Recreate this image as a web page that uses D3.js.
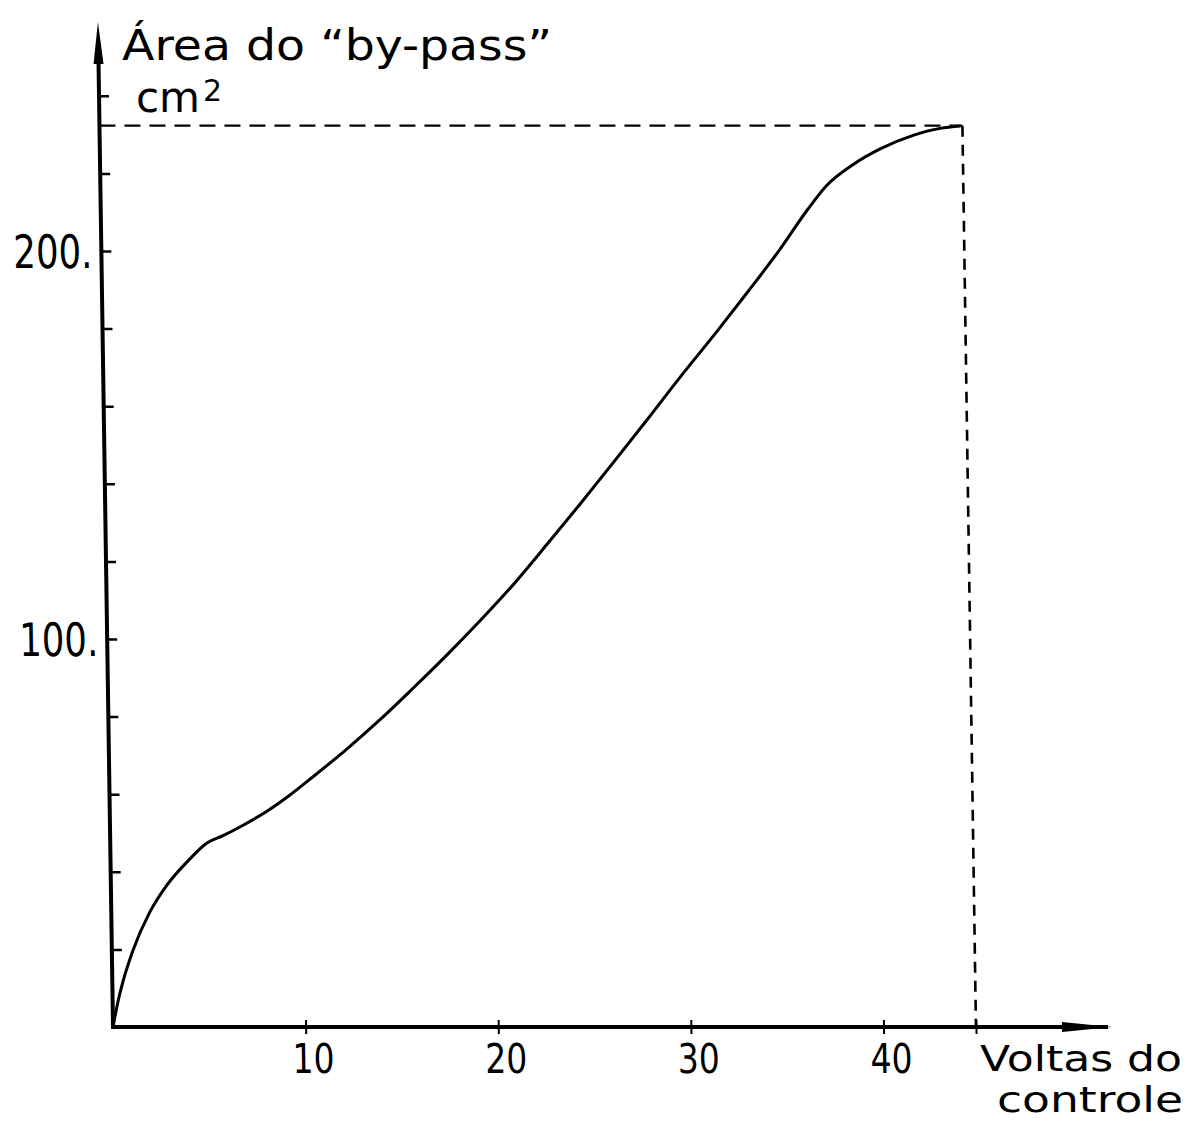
<!DOCTYPE html>
<html>
<head>
<meta charset="utf-8">
<script src="https://cdn.jsdelivr.net/npm/d3@7"></script>
<style>
  body { margin: 0; background: #fff; }
  text { font-family: "DejaVu Sans", sans-serif; fill: #000; }
</style>
</head>
<body>
<svg id="chart" width="1190" height="1121"></svg>
<script>
var width = 1190;
var height = 1121;

// data (voltas do controle -> area cm2)
var turns = [0, 0.3, 0.6, 1.1, 2.0, 2.9, 4.1, 5.02, 5.86, 6.91, 8.16, 9.21, 10.58, 12.37, 14.10, 15.84,
  17.63, 19.37, 21.12, 22.91, 24.66, 26.40, 28.20, 29.95, 31.95, 33.50, 35.24, 36.67, 37.73, 39.10, 40.51, 42.23, 43.64, 44.7];
var area = [0, 7.0, 12.5, 19.8, 29.6, 36.5, 43.2, 47.4, 49.3, 52.0, 55.6, 59.2, 64.5, 71.7, 79.2, 87.3,
  95.9, 104.7, 114.0, 124.4, 134.8, 145.4, 156.5, 167.5, 179.6, 189.3, 200.5, 210.5, 217.0, 222.3, 226.3, 229.8, 231.6, 232.2];

// dashed guide to the end of travel
var maxTurns = [44.8];
var maxArea = [232.3];

// ticks
var xTicks = [10, 20, 30, 40];
var yTicks = [20, 40, 60, 80, 100, 120, 140, 160, 180, 200, 220, 240];
var yLabelled = [100, 200];

var yTitle = "\u00C1rea do \u201Cby-pass\u201D";
var yUnit = "cm";
var yUnitSup = "2";
var xTitle1 = "Voltas do";
var xTitle2 = "controle";

// scales
var xScale = d3.scaleLinear().domain([0, 40]).range([113, 883.5]);
var yScale = d3.scaleLinear().domain([0, 200]).range([1027, 251]);

var svg = d3.select('#chart');
svg.append('rect').attr('width', width).attr('height', height).attr('fill', '#fff');

// the original drawing leans a little, so shear the plot around the x axis
var y0 = yScale(0);
var plot = svg.append('g')
  .attr('transform', 'translate(0,' + y0 + ') skewX(0.86) translate(0,' + (-y0) + ')');

// dashed guides
plot.append('line')
  .attr('x1', xScale(0)).attr('x2', xScale(maxTurns[0]))
  .attr('y1', yScale(maxArea[0])).attr('y2', yScale(maxArea[0]))
  .attr('stroke', '#000').attr('stroke-width', 2.2)
  .attr('stroke-dasharray', '16,9');
plot.append('line')
  .attr('x1', xScale(maxTurns[0])).attr('x2', xScale(maxTurns[0]))
  .attr('y1', yScale(maxArea[0])).attr('y2', yScale(0))
  .attr('stroke', '#000').attr('stroke-width', 2.6)
  .attr('stroke-dasharray', '11,8');

// curve
var line = d3.line()
  .x(function(d){ return xScale(d[0]); })
  .y(function(d){ return yScale(d[1]); })
  .curve(d3.curveMonotoneX);
plot.append('path')
  .datum(d3.zip(turns, area))
  .attr('d', line)
  .attr('fill', 'none')
  .attr('stroke', '#000')
  .attr('stroke-width', 3);

// axes
var xAxis = d3.axisBottom(xScale)
  .tickValues(xTicks.concat(maxTurns))
  .tickSize(7)
  .tickFormat(function(d){ return xTicks.indexOf(d) >= 0 ? d : ''; });
var gx = plot.append('g')
  .attr('transform', 'translate(0,' + y0 + ')')
  .call(xAxis);
gx.select('.domain').remove();
gx.selectAll('.tick line').attr('y1', -7).attr('stroke', '#000').attr('stroke-width', 2);
gx.selectAll('.tick text')
  .attr('y', 46).attr('dy', 0).attr('dx', 7)
  .attr('font-size', 41)
  .attr('font-family', '"DejaVu Sans", sans-serif')
  .attr('textLength', 42).attr('lengthAdjust', 'spacingAndGlyphs');

var yAxis = d3.axisLeft(yScale)
  .tickValues(yTicks)
  .tickSize(10)
  .tickFormat(function(d){ return yLabelled.indexOf(d) >= 0 ? d + '.' : ''; });
var gy = plot.append('g')
  .attr('transform', 'translate(' + xScale(0) + ',0)')
  .call(yAxis);
gy.select('.domain').remove();
gy.selectAll('.tick line').attr('x2', 10).attr('stroke', '#000').attr('stroke-width', 2.5);
gy.selectAll('.tick text')
  .attr('x', -9).attr('dy', '0.36em')
  .attr('font-size', 46)
  .attr('font-family', '"DejaVu Sans", sans-serif')
  .attr('textLength', 79).attr('lengthAdjust', 'spacingAndGlyphs');

// axis lines with arrows
plot.append('line')
  .attr('x1', xScale(0)).attr('x2', 1108)
  .attr('y1', y0).attr('y2', y0)
  .attr('stroke', '#000').attr('stroke-width', 4);
plot.append('path')
  .attr('d', 'M1062,' + (y0 - 5) + 'L1112,' + y0 + 'L1062,' + (y0 + 5) + 'Z')
  .attr('fill', '#000');
plot.append('line')
  .attr('x1', xScale(0)).attr('x2', xScale(0))
  .attr('y1', y0 + 2).attr('y2', 40)
  .attr('stroke', '#000').attr('stroke-width', 4);
plot.append('path')
  .attr('d', 'M' + xScale(0) + ',22L' + (xScale(0) + 5) + ',64L' + (xScale(0) - 5) + ',64Z')
  .attr('fill', '#000');

// titles
svg.append('text')
  .attr('x', 122).attr('y', 60)
  .attr('font-size', 42)
  .attr('textLength', 430).attr('lengthAdjust', 'spacingAndGlyphs')
  .text(yTitle);

var unit = svg.append('text')
  .attr('x', 136).attr('y', 112)
  .attr('font-size', 42);
unit.append('tspan').text(yUnit);
unit.append('tspan')
  .attr('dx', 3).attr('dy', -11)
  .attr('font-size', 30)
  .text(yUnitSup);

var xt = svg.append('text')
  .attr('text-anchor', 'end')
  .attr('font-size', 35);
xt.append('tspan')
  .attr('x', 1182).attr('y', 1071)
  .attr('textLength', 202).attr('lengthAdjust', 'spacingAndGlyphs')
  .text(xTitle1);
xt.append('tspan')
  .attr('x', 1183).attr('y', 1112)
  .attr('textLength', 186).attr('lengthAdjust', 'spacingAndGlyphs')
  .text(xTitle2);
</script>
</body>
</html>
